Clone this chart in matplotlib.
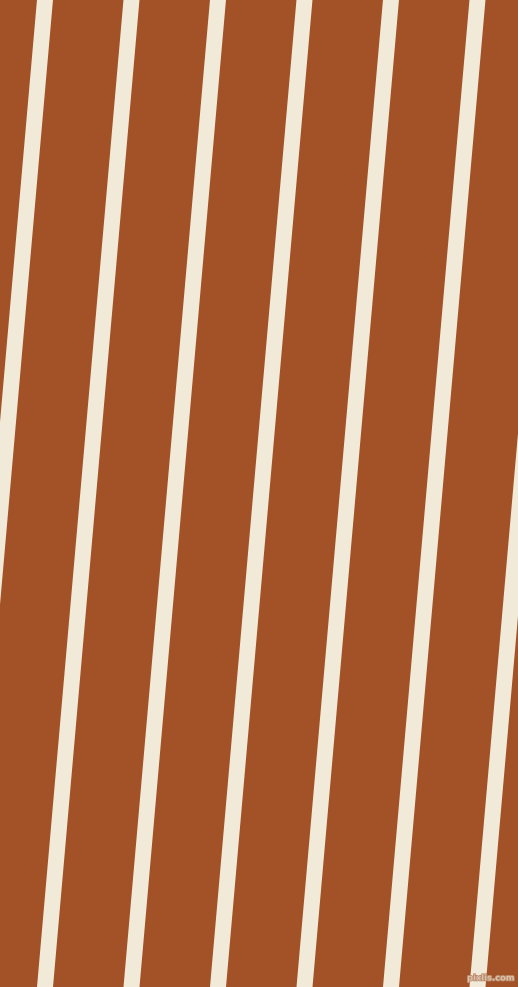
import matplotlib
matplotlib.use('Agg')
import matplotlib.pyplot as plt
import matplotlib.patheffects as pe

# Stripe centre positions (px) at the top edge and bottom edge of the image
stripe_top_x = [45, 131.5, 218, 304.5, 391, 477.5, 564]
stripe_bottom_x = [-41.5, 45, 131.5, 218, 304.5, 391, 477.5]
stripe_width = 16  # horizontal width in px

width_px, height_px = 518, 987
background = '#A25226'
stripe_color = '#F2EAD9'

fig = plt.figure(figsize=(width_px / 100, height_px / 100 + 0.004), dpi=100)
ax = fig.add_axes([0, 0, 1, 1])
ax.set_facecolor(background)
fig.patch.set_facecolor(background)

# draw stripes as filled quads so the clipping at the edges stays clean
hw = stripe_width / 2
for x0, x1 in zip(stripe_top_x, stripe_bottom_x):
    ax.fill([x0 - hw, x0 + hw, x1 + hw, x1 - hw], [0, 0, height_px, height_px],
            color=stripe_color, linewidth=0, antialiased=True)

ax.text(515, 978, 'pixlis.com', color='#dcc0a8', fontsize=6, fontweight='bold',
        ha='right', va='center',
        path_effects=[pe.withStroke(linewidth=1.2, foreground='#b98a6c')])

ax.set_xlim(0, width_px)
ax.set_ylim(height_px, 0)
ax.axis('off')

fig.savefig('out.png', dpi=100, facecolor=background)
